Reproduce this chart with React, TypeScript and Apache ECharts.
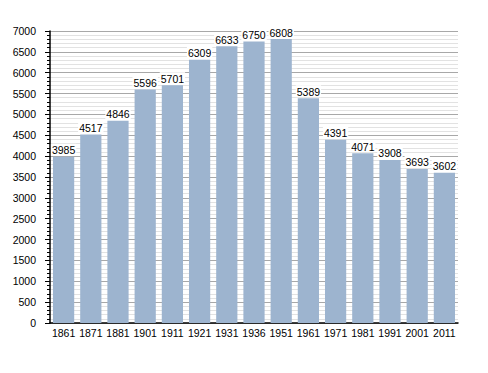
import React, { useEffect, useRef } from "react";
import * as echarts from "echarts";

const years = ["1861", "1871", "1881", "1901", "1911", "1921", "1931", "1936", "1951", "1961", "1971", "1981", "1991", "2001", "2011"];
const population = [3985, 4517, 4846, 5596, 5701, 6309, 6633, 6750, 6808, 5389, 4391, 4071, 3908, 3693, 3602];

export default function App() {
  const ref = useRef<HTMLDivElement>(null);
  useEffect(() => {
    const chart = echarts.init(ref.current!, null, { renderer: "svg" });
    chart.setOption({
      animation: false,
      grid: { left: 50, top: 31, right: 30, bottom: 50 },
      xAxis: {
        type: "category",
        data: years,
        axisLine: { lineStyle: { color: "#000", width: 1.5 } },
        axisTick: { show: false },
        axisLabel: { color: "#000", fontSize: 10.5, fontFamily: "Liberation Sans", margin: 4, interval: 0 },
      },
      yAxis: {
        type: "value",
        min: 0,
        max: 7000,
        interval: 500,
        axisLine: { show: true, lineStyle: { color: "#000", width: 1.5 } },
        axisTick: { show: true, length: 5, lineStyle: { color: "#000" } },
        minorTick: { show: true, splitNumber: 5, length: 3, lineStyle: { color: "#000" } },
        splitLine: { lineStyle: { color: "#a8a8a8", width: 1 } },
        minorSplitLine: { show: true, lineStyle: { color: "#e2e2e2", width: 1 } },
        axisLabel: {
          color: "#000",
          fontSize: 10.5,
          fontFamily: "Liberation Sans",
          margin: 14,
          formatter: (v: number) => String(v),
        },
      },
      series: [
        {
          type: "bar",
          data: population,
          barCategoryGap: "22%",
          itemStyle: { color: "#9db4cf" },
          label: {
            show: true,
            position: "top",
            distance: 1,
            color: "#000",
            fontSize: 10.5,
            fontFamily: "Liberation Sans",
            backgroundColor: "#fff",
            padding: [1, 1, 0, 1],
            formatter: (p: any) => String(p.value),
          },
        },
      ],
    });
    return () => chart.dispose();
  }, []);
  return <div ref={ref} style={{ position: "absolute", left: 0, top: 0, width: 488, height: 373 }} />;
}
